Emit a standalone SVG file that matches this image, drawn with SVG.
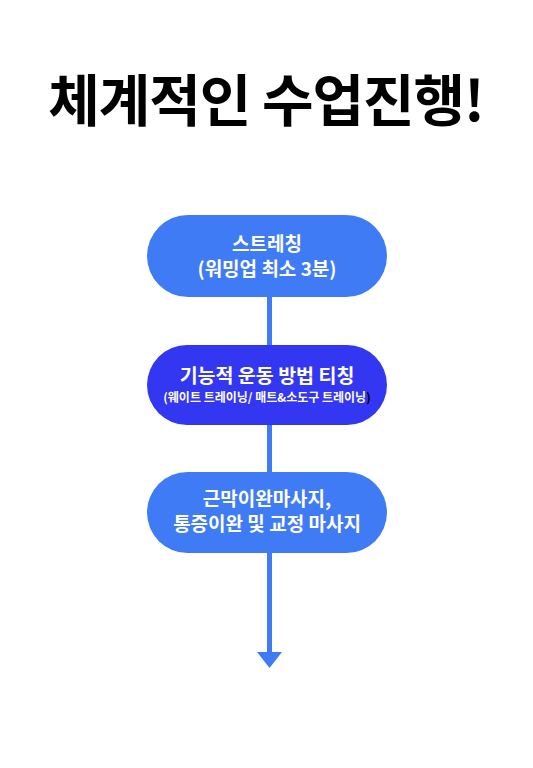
<svg xmlns="http://www.w3.org/2000/svg" width="533" height="768" viewBox="0 0 533 768">
<style>
.t{font-family:"Noto Sans CJK KR","Noto Sans",sans-serif;font-weight:bold;fill:#fff;text-anchor:middle}
.title{font-family:"Noto Sans CJK KR","Noto Sans",sans-serif;font-weight:bold;fill:#000;text-anchor:middle}
.n1{fill:#3f7bf5}
.n2{fill:#3337f2}
</style>
<rect width="533" height="768" fill="#fff"/>
<text class="title" x="266" y="121" font-size="56" letter-spacing="-1">체계적인 수업진행!</text>
<g id="connectors">
<line x1="269.5" y1="295" x2="269.5" y2="654" stroke="#3f7bf5" stroke-width="5"/>
<polygon points="257,652 282,652 269.5,668" fill="#3f7bf5"/>
</g>
<g id="node1">
<rect class="n1" x="147" y="215" width="240" height="82" rx="41"/>
<text class="t" x="267" y="251" font-size="19">스트레칭</text>
<text class="t" x="267" y="276" font-size="19">(워밍업 최소 3분)</text>
</g>
<g id="node2">
<rect class="n2" x="147" y="345" width="240" height="80" rx="40"/>
<text class="t" x="267" y="383" font-size="19.5">기능적 운동 방법 티칭</text>
<text class="t" x="267" y="402" font-size="12">(웨이트 트레이닝/ 매트&amp;소도구 트레이닝<tspan fill="#000">)</tspan></text>
</g>
<g id="node3">
<rect class="n1" x="147" y="472" width="240" height="81" rx="40.5"/>
<text class="t" x="267" y="506" font-size="19">근막이완마사지,</text>
<text class="t" x="267" y="531" font-size="19">통증이완 및 교정 마사지</text>
</g>
</svg>
